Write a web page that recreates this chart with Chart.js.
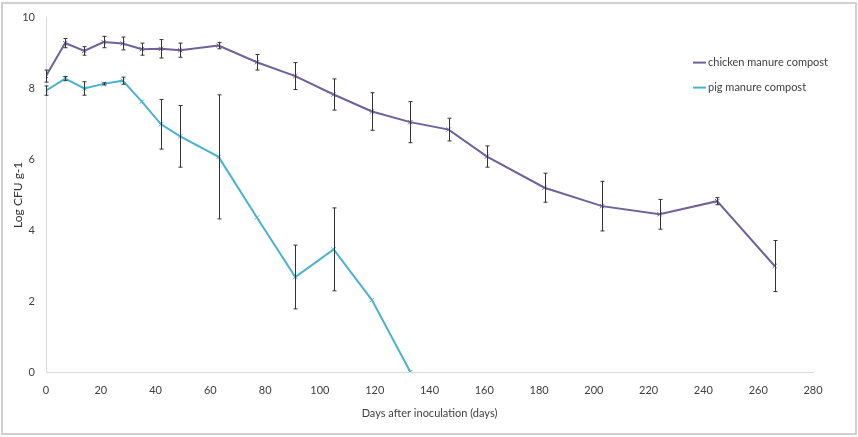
<!DOCTYPE html>
<html>
<head>
<meta charset="utf-8">
<script src="https://cdn.jsdelivr.net/npm/chart.js@4.4.0/dist/chart.umd.min.js"></script>
<style>
  body { margin: 0; background: #fff; }
</style>
</head>
<body>
<canvas id="chart" width="858" height="437"></canvas>
<script>
// chicken manure compost
const chickenDays = [0, 7, 14, 21, 28, 35, 42, 49, 63, 77, 91, 105, 119, 133, 147, 161, 182, 203, 224, 245, 266];
const chickenValues = [8.35, 9.28, 9.06, 9.31, 9.27, 9.11, 9.12, 9.08, 9.21, 8.74, 8.35, 7.83, 7.35, 7.05, 6.84, 6.08, 5.2, 4.68, 4.45, 4.82, 2.99];
const chickenErrors = [0.17, 0.13, 0.12, 0.16, 0.18, 0.17, 0.26, 0.2, 0.09, 0.22, 0.38, 0.44, 0.53, 0.58, 0.32, 0.3, 0.41, 0.7, 0.42, 0.1, 0.72];

// pig manure compost
const pigDays = [0, 7, 14, 21, 28, 35, 42, 49, 63, 77, 91, 105, 119, 133];
const pigValues = [7.94, 8.28, 8.0, 8.13, 8.22, 7.63, 6.99, 6.65, 6.07, 4.36, 2.68, 3.46, 2.03, 0];
const pigErrors = [0.13, 0.06, 0.19, 0.03, 0.1, 0, 0.7, 0.87, 1.75, 0, 0.9, 1.17, 0, 0];

const seriesNames = ['chicken manure compost', 'pig manure compost'];
const seriesColors = ['#6E6299', '#4BB2D0'];

const fontFamily = "'Lato', sans-serif";

// Build {x, y} points from the arrays
function toPoints(days, values) {
  return days.map((d, i) => ({ x: d, y: values[i] }));
}

// Outer frame
const framePlugin = {
  id: 'frame',
  beforeDraw(chart) {
    const ctx = chart.ctx;
    ctx.save();
    ctx.fillStyle = '#fff';
    ctx.fillRect(0, 0, chart.width, chart.height);
    ctx.strokeStyle = '#d0d0d0';
    ctx.lineWidth = 2;
    ctx.strokeRect(2, 3, chart.width - 4, chart.height - 6);
    ctx.restore();
  }
};

// Vertical error bars, drawn with the y scale
const errorBarPlugin = {
  id: 'errorBars',
  afterDatasetsDraw(chart) {
    const ctx = chart.ctx;
    const yScale = chart.scales.y;
    ctx.save();
    ctx.strokeStyle = '#333';
    ctx.lineWidth = 1;
    chart.data.datasets.forEach((ds, di) => {
      const meta = chart.getDatasetMeta(di);
      ds.errors.forEach((e, i) => {
        if (!e) return;
        const pt = meta.data[i];
        const v = ds.data[i].y;
        const top = yScale.getPixelForValue(v + e);
        const bottom = yScale.getPixelForValue(Math.max(0, v - e));
        const x = Math.round(pt.x) + 0.5;
        ctx.beginPath();
        ctx.moveTo(x, top);
        ctx.lineTo(x, bottom);
        ctx.moveTo(x - 2, top);
        ctx.lineTo(x + 2, top);
        ctx.moveTo(x - 2, bottom);
        ctx.lineTo(x + 2, bottom);
        ctx.stroke();
      });
    });
    ctx.restore();
  }
};

// Legend inside the plot, upper right
const legendPlugin = {
  id: 'insideLegend',
  afterDraw(chart) {
    const ctx = chart.ctx;
    const area = chart.chartArea;
    const x0 = area.right - 120;
    ctx.save();
    ctx.font = '11px ' + fontFamily;
    ctx.textBaseline = 'middle';
    chart.data.datasets.forEach((ds, i) => {
      const y = area.top + 45 + i * 25;
      ctx.strokeStyle = ds.borderColor;
      ctx.lineWidth = 2;
      ctx.beginPath();
      ctx.moveTo(x0, y);
      ctx.lineTo(x0 + 13, y);
      ctx.stroke();
      ctx.fillStyle = '#404040';
      ctx.fillText(ds.label, x0 + 15, y);
    });
    ctx.restore();
  }
};

new Chart(document.getElementById('chart'), {
  type: 'line',
  data: {
    datasets: [
      {
        label: seriesNames[0],
        data: toPoints(chickenDays, chickenValues),
        errors: chickenErrors,
        borderColor: seriesColors[0],
        backgroundColor: seriesColors[0],
        borderWidth: 2,
        pointStyle: 'crossRot',
        pointRadius: 3,
        pointBorderWidth: 1,
        tension: 0,
        fill: false
      },
      {
        label: seriesNames[1],
        data: toPoints(pigDays, pigValues),
        errors: pigErrors,
        borderColor: seriesColors[1],
        backgroundColor: seriesColors[1],
        borderWidth: 2,
        pointStyle: 'crossRot',
        pointRadius: 3,
        pointBorderWidth: 1,
        tension: 0,
        fill: false
      }
    ]
  },
  options: {
    responsive: false,
    animation: false,
    layout: { padding: { top: 17, right: 45, left: 0, bottom: 0 } },
    plugins: {
      legend: { display: false },
      tooltip: { enabled: false }
    },
    scales: {
      x: {
        type: 'linear',
        min: 0,
        max: 280,
        ticks: { stepSize: 20, padding: 12, color: '#404040', font: { family: fontFamily, size: 11 } },
        grid: { display: false, drawTicks: false },
        border: { display: true, color: '#d9d9d9', width: 1 },
        title: {
          display: true,
          text: 'Days after inoculation (days)',
          color: '#404040',
          font: { family: fontFamily, size: 11 },
          padding: { top: 0, bottom: 17 }
        },
        afterFit(scale) { scale.height = 65; }
      },
      y: {
        min: 0,
        max: 10,
        ticks: { stepSize: 2, padding: 11, color: '#404040', font: { family: fontFamily, size: 11 } },
        grid: { display: false, drawTicks: false },
        border: { display: true, color: '#d9d9d9', width: 1 },
        title: {
          display: true,
          text: 'Log CFU g-1',
          color: '#333',
          font: { family: fontFamily, size: 12 },
          padding: { top: 11, bottom: 0 }
        },
        afterFit(scale) { scale.width = 46; }
      }
    }
  },
  plugins: [framePlugin, errorBarPlugin, legendPlugin]
});
</script>
</body>
</html>
